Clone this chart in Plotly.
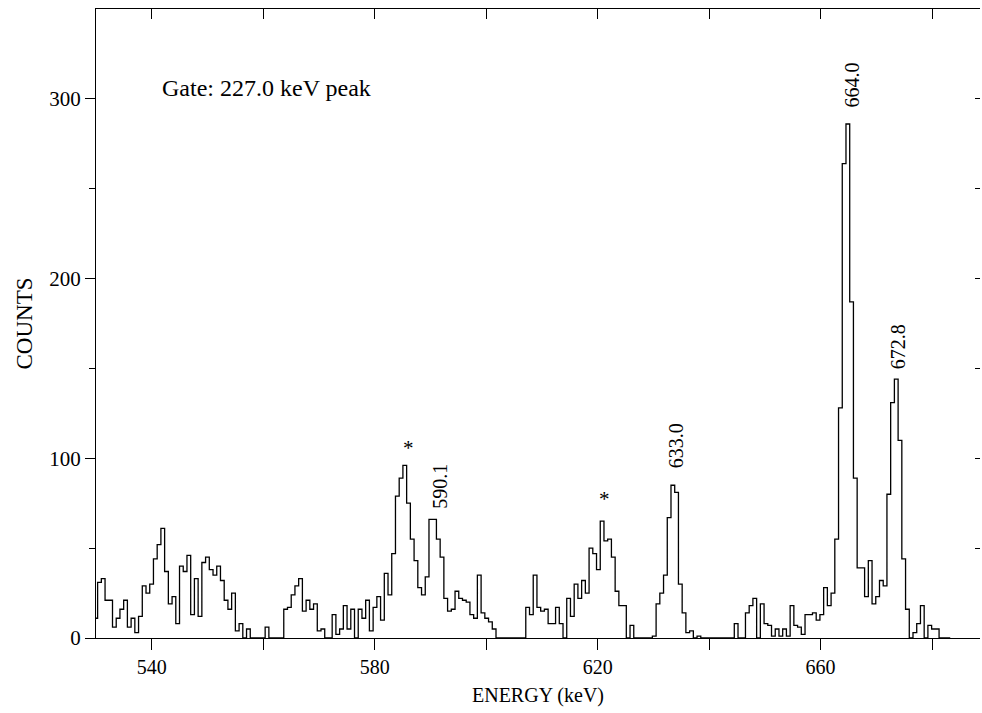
import plotly.graph_objects as go

# Gated gamma-ray coincidence spectrum (gate on the 227.0 keV peak)
bin_start_kev = 529.62
bin_width_kev = 0.668

counts = [
    11, 31, 33, 21, 21, 6, 11, 16, 21, 6,
    11, 3, 12, 29, 25, 30, 44, 52, 61, 37,
    19, 23, 8, 40, 37, 46, 13, 33, 12, 42,
    45, 38, 35, 40, 32, 21, 16, 25, 4, 8,
    0, 5, 0, 0, 0, 0, 6, 0, 0, 0,
    0, 16, 17, 24, 29, 33, 15, 21, 16, 19,
    4, 5, 0, 0, 13, 2, 5, 18, 5, 16,
    0, 16, 11, 21, 4, 17, 23, 10, 36, 24,
    47, 79, 89, 96, 75, 55, 43, 28, 24, 34,
    66, 66, 55, 45, 22, 15, 16, 26, 22, 21,
    20, 13, 11, 35, 14, 11, 9, 5, 0, 0,
    0, 0, 0, 0, 0, 0, 17, 13, 35, 17,
    15, 16, 8, 8, 17, 8, 0, 22, 12, 30,
    22, 32, 25, 50, 47, 38, 65, 54, 55, 45,
    26, 18, 18, 0, 7, 0, 0, 0, 0, 0,
    1, 19, 25, 35, 67, 85, 81, 30, 14, 3,
    4, 0, 1, 0, 0, 0, 0, 0, 0, 0,
    0, 0, 8, 0, 0, 14, 18, 22, 0, 19,
    8, 7, 1, 5, 1, 5, 1, 18, 7, 6,
    2, 13, 13, 14, 10, 13, 28, 18, 25, 55,
    128, 264, 286, 187, 89, 39, 39, 23, 43, 19,
    23, 32, 29, 80, 131, 144, 110, 44, 16, 0,
    3, 8, 18, 0, 7, 5, 5, 0, 0, 0,
]

x_ticks = [540, 560, 580, 600, 620, 640, 660, 680]
x_tick_text = ["540", "", "580", "", "620", "", "660", ""]
y_ticks = [0, 100, 200, 300]
y_tick_text = ["0", "100", "200", "300"]

peak_labels = ["590.1", "633.0", "664.0", "672.8"]
peak_label_x = [591.7, 634.1, 665.7, 673.8]
peak_label_y = [84.6, 106.8, 307.7, 162.0]

star_x = [586.0, 621.2]
star_y = [105.5, 77.5]

gate_text = "Gate: 227.0 keV peak"

x_range = [530, 688.6]
y_range = [0, 350]

serif = "Liberation Serif, Times New Roman, serif"

# step outline: each bin drawn from its low edge, closed back to zero at the end
edges = [bin_start_kev + i * bin_width_kev for i in range(len(counts) + 1)]
step_y = counts + [0]

fig = go.Figure()
fig.add_trace(go.Scatter(
    x=edges, y=step_y, mode="lines", line_shape="hv",
    line=dict(color="black", width=1.3), showlegend=False, hoverinfo="skip",
))
# empty trace so the mirrored tick axes are drawn
fig.add_trace(go.Scatter(x=[None], y=[None], xaxis="x2", yaxis="y2",
                         showlegend=False, hoverinfo="skip"))

annotations = []
for txt, ex, ey in zip(peak_labels, peak_label_x, peak_label_y):
    annotations.append(dict(x=ex, y=ey, xref="x", yref="y", text=txt,
                            showarrow=False, textangle=-90,
                            font=dict(family=serif, size=20, color="black")))
for ex, ey in zip(star_x, star_y):
    annotations.append(dict(x=ex, y=ey, xref="x", yref="y", text="*",
                            showarrow=False,
                            font=dict(family=serif, size=21, color="black")))
annotations.append(dict(x=541.5, y=306, xref="x", yref="y", text=gate_text,
                        showarrow=False, xanchor="left",
                        font=dict(family=serif, size=24, color="black")))

axis_font = dict(family=serif, size=20, color="black")
ytick_font = dict(family=serif, size=21, color="black")

fig.update_layout(
    width=982, height=713,
    margin=dict(l=96, r=2, t=9, b=75),
    paper_bgcolor="white", plot_bgcolor="white",
    annotations=annotations,
    xaxis=dict(
        range=x_range, showgrid=False, zeroline=False,
        showline=True, linecolor="black", linewidth=1.3,
        ticks="outside", ticklen=11, tickwidth=1.2, tickcolor="black",
        tickvals=x_ticks, ticktext=x_tick_text, tickfont=axis_font,
        title=dict(text="ENERGY (keV)", font=axis_font, standoff=10),
    ),
    xaxis2=dict(
        range=x_range, overlaying="x", side="top", showgrid=False,
        zeroline=False, showline=True, linecolor="black", linewidth=1.3,
        ticks="inside", ticklen=10, tickwidth=1.2, tickcolor="black",
        tickvals=x_ticks, showticklabels=False,
    ),
    yaxis=dict(
        range=y_range, showgrid=False, zeroline=False,
        showline=True, linecolor="black", linewidth=1.3,
        ticks="outside", ticklen=10, tickwidth=1.2, tickcolor="black",
        tickvals=y_ticks, ticktext=y_tick_text, tickfont=ytick_font,
        minor=dict(tickvals=[50, 150, 250], ticks="outside", ticklen=6,
                   tickwidth=1.2, tickcolor="black"),
        title=dict(text="COUNTS", font=dict(family=serif, size=23, color="black"),
                   standoff=10),
    ),
    yaxis2=dict(
        range=y_range, overlaying="y", side="right", showgrid=False,
        zeroline=False, showline=False,
        ticks="inside", ticklen=5, tickwidth=1.2, tickcolor="black",
        tickvals=[50, 100, 150, 200, 250, 300], showticklabels=False,
    ),
)

fig.write_html("out.html")
